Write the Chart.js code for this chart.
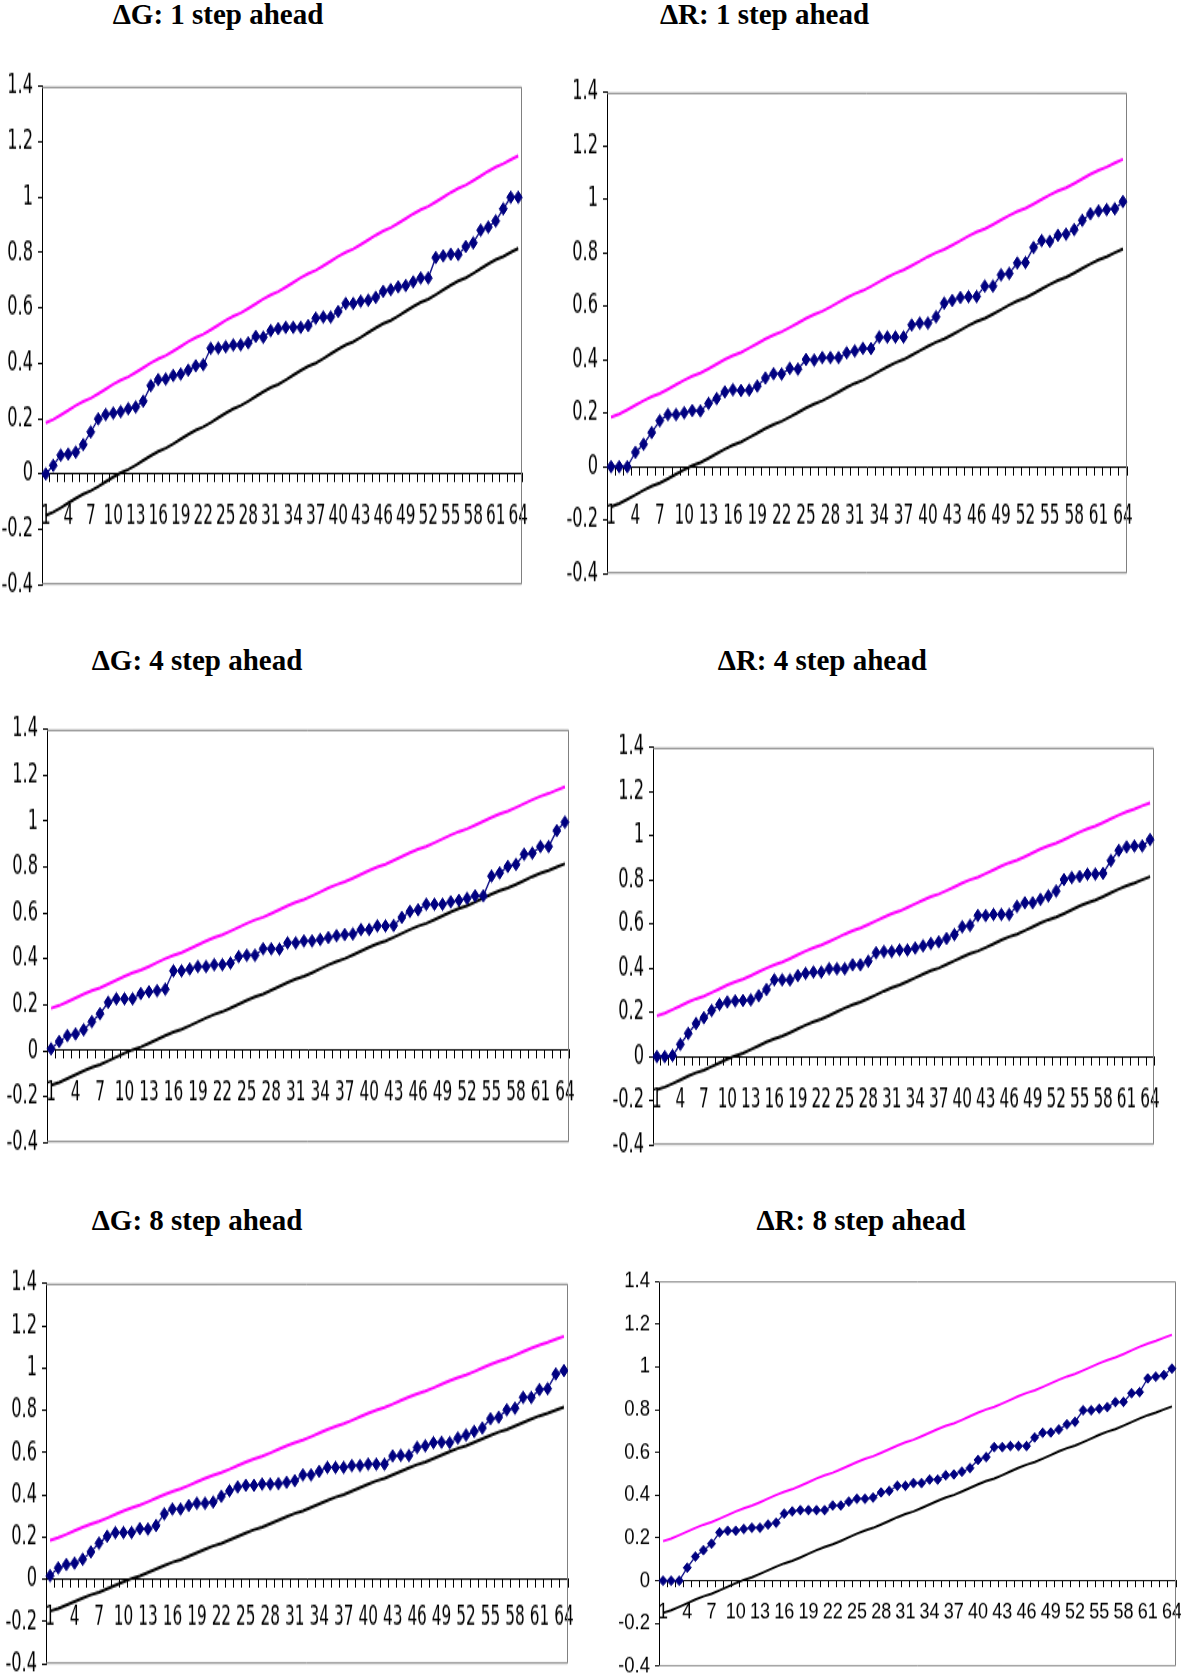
<!DOCTYPE html>
<html>
<head>
<meta charset="utf-8">
<script src="https://cdn.jsdelivr.net/npm/chart.js@4.4.0/dist/chart.umd.min.js"></script>
<style>
html, body { margin: 0; padding: 0; background: #fff; width: 1181px; height: 1679px; overflow: hidden; position: relative; }
.ttl { position: absolute; width: 320px; text-align: center; font: bold 29px 'Liberation Serif', 'Times New Roman', serif; line-height: 34px; color: #000; white-space: nowrap; }
.wrap { position: absolute; transform-origin: 0 0; }
</style>
</head>
<body>
<script>
// observation index 1..64
const steps = Array.from({length: 64}, (_, i) => String(i + 1));

// 5% significance bounds
const upperBound = [0.185, 0.197, 0.213, 0.230, 0.247, 0.262, 0.274, 0.290, 0.307, 0.324,
  0.339, 0.351, 0.367, 0.384, 0.401, 0.416, 0.428, 0.444, 0.461, 0.478,
  0.493, 0.505, 0.521, 0.538, 0.555, 0.570, 0.582, 0.598, 0.615, 0.632,
  0.647, 0.659, 0.675, 0.692, 0.709, 0.724, 0.736, 0.752, 0.769, 0.786,
  0.801, 0.813, 0.829, 0.846, 0.863, 0.878, 0.890, 0.906, 0.923, 0.940,
  0.955, 0.967, 0.983, 1.000, 1.017, 1.032, 1.044, 1.060, 1.077, 1.094,
  1.109, 1.121, 1.136, 1.150];
const lowerBound = [-0.150, -0.138, -0.122, -0.105, -0.088, -0.073, -0.061, -0.045, -0.028, -0.011,
  0.004, 0.016, 0.032, 0.049, 0.066, 0.081, 0.093, 0.109, 0.126, 0.143,
  0.158, 0.170, 0.186, 0.203, 0.220, 0.235, 0.247, 0.263, 0.280, 0.297,
  0.312, 0.324, 0.340, 0.357, 0.374, 0.389, 0.401, 0.417, 0.434, 0.451,
  0.466, 0.478, 0.494, 0.511, 0.528, 0.543, 0.555, 0.571, 0.588, 0.605,
  0.620, 0.632, 0.648, 0.665, 0.682, 0.697, 0.709, 0.725, 0.742, 0.759,
  0.774, 0.786, 0.801, 0.815];

// CUSUM of squares, one series per panel
const dG1 = [0, 0.031, 0.068, 0.072, 0.079, 0.106, 0.152, 0.199, 0.215, 0.22,
  0.225, 0.236, 0.242, 0.263, 0.319, 0.341, 0.343, 0.356, 0.361, 0.375,
  0.391, 0.395, 0.454, 0.455, 0.46, 0.466, 0.467, 0.474, 0.497, 0.494,
  0.518, 0.525, 0.53, 0.53, 0.53, 0.536, 0.563, 0.567, 0.567, 0.587,
  0.616, 0.616, 0.624, 0.628, 0.638, 0.66, 0.666, 0.676, 0.681, 0.694,
  0.708, 0.708, 0.782, 0.788, 0.794, 0.793, 0.822, 0.835, 0.881, 0.892,
  0.914, 0.958, 1.0, 1.0];
const dR1 = [0, 0, 0, 0.054, 0.084, 0.128, 0.172, 0.195, 0.195, 0.202,
  0.21, 0.209, 0.237, 0.255, 0.28, 0.288, 0.285, 0.287, 0.302, 0.332,
  0.348, 0.347, 0.368, 0.365, 0.401, 0.399, 0.408, 0.408, 0.408, 0.426,
  0.433, 0.443, 0.442, 0.485, 0.485, 0.485, 0.485, 0.53, 0.537, 0.537,
  0.561, 0.612, 0.622, 0.633, 0.636, 0.637, 0.676, 0.676, 0.718, 0.723,
  0.762, 0.764, 0.82, 0.846, 0.843, 0.866, 0.87, 0.887, 0.922, 0.946,
  0.957, 0.962, 0.965, 0.992];
const dG4 = [0.008, 0.04, 0.066, 0.073, 0.091, 0.126, 0.161, 0.211, 0.226, 0.226,
  0.226, 0.249, 0.257, 0.261, 0.268, 0.348, 0.348, 0.356, 0.367, 0.367,
  0.375, 0.375, 0.382, 0.41, 0.416, 0.416, 0.444, 0.444, 0.443, 0.47,
  0.47, 0.478, 0.478, 0.485, 0.493, 0.501, 0.506, 0.509, 0.528, 0.528,
  0.544, 0.544, 0.546, 0.581, 0.607, 0.614, 0.638, 0.638, 0.638, 0.649,
  0.655, 0.664, 0.675, 0.675, 0.761, 0.775, 0.803, 0.812, 0.856, 0.861,
  0.89, 0.89, 0.959, 0.996];
const dR4 = [0, 0, 0.005, 0.056, 0.105, 0.15, 0.176, 0.209, 0.236, 0.248,
  0.252, 0.254, 0.257, 0.276, 0.304, 0.348, 0.348, 0.348, 0.367, 0.377,
  0.383, 0.383, 0.398, 0.398, 0.398, 0.416, 0.416, 0.432, 0.47, 0.476,
  0.476, 0.483, 0.483, 0.492, 0.502, 0.512, 0.52, 0.535, 0.553, 0.588,
  0.594, 0.639, 0.639, 0.644, 0.644, 0.644, 0.68, 0.697, 0.697, 0.712,
  0.728, 0.75, 0.802, 0.811, 0.816, 0.826, 0.827, 0.83, 0.888, 0.934,
  0.95, 0.954, 0.954, 0.983];
const dG8 = [0.017, 0.054, 0.07, 0.077, 0.095, 0.13, 0.171, 0.204, 0.221, 0.222,
  0.222, 0.24, 0.238, 0.255, 0.31, 0.333, 0.333, 0.349, 0.36, 0.36,
  0.366, 0.393, 0.419, 0.437, 0.445, 0.445, 0.451, 0.451, 0.453, 0.459,
  0.467, 0.494, 0.494, 0.511, 0.53, 0.53, 0.53, 0.538, 0.538, 0.545,
  0.545, 0.545, 0.584, 0.587, 0.586, 0.624, 0.632, 0.647, 0.649, 0.647,
  0.669, 0.683, 0.7, 0.716, 0.76, 0.767, 0.802, 0.81, 0.861, 0.861,
  0.898, 0.902, 0.972, 0.988];
const dR8 = [0, 0, 0, 0.061, 0.113, 0.143, 0.173, 0.226, 0.234, 0.234,
  0.242, 0.248, 0.248, 0.263, 0.271, 0.314, 0.324, 0.33, 0.33, 0.33,
  0.33, 0.352, 0.352, 0.37, 0.383, 0.383, 0.389, 0.413, 0.42, 0.444,
  0.444, 0.457, 0.457, 0.473, 0.473, 0.493, 0.497, 0.51, 0.527, 0.565,
  0.578, 0.625, 0.625, 0.63, 0.63, 0.63, 0.67, 0.692, 0.693, 0.707,
  0.731, 0.743, 0.797, 0.797, 0.804, 0.812, 0.835, 0.836, 0.877, 0.882,
  0.946, 0.954, 0.962, 0.992];

const yMin = -0.4, yMax = 1.4, yStep = 0.2;

const NAVY = '#000080';
const NARROW = "'Liberation Sans Narrow', 'DejaVu Sans Condensed', sans-serif";
const AX = 40, PT = 14, PB = 12, PR = 6;

// plot: [left, right, top(1.4), bottom(-0.4)] in page px, head: title centre, lab: label drop below 0
const panels = [
  {title: 'ΔG: 1 step ahead', data: dG1, plot: [41.8, 521.4, 83.4, 590.2], head: [218, 14], lab: 43},
  {title: 'ΔR: 1 step ahead', data: dR1, plot: [606.5, 1126.5, 89.7, 580.2], head: [764.5, 14], lab: 50},
  {title: 'ΔG: 4 step ahead', data: dG4, plot: [47, 568.5, 727, 1149], head: [197, 659.5], lab: 43},
  {title: 'ΔR: 4 step ahead', data: dR4, plot: [652.5, 1153, 744.6, 1150.6], head: [822.3, 659.5], lab: 44},
  {title: 'ΔG: 8 step ahead', data: dG8, plot: [46.3, 568.5, 1280.9, 1669.7], head: [197, 1219.5], lab: 39},
  {title: 'ΔR: 8 step ahead', data: dR8, plot: [658.7, 1175.5, 1279, 1671.5], head: [861, 1219.5], lab: 32,
   k: 1.2, xfs: 18, yfs: 18.5, family: "'Liberation Sans', Arial, sans-serif"}
];

const frame = {
  id: 'frame',
  beforeDatasetsDraw(chart) {
    const {ctx, chartArea: a} = chart;
    ctx.save();
    ctx.strokeStyle = '#808080';
    ctx.lineWidth = 1;
    ctx.beginPath();
    ctx.moveTo(a.left, a.top + 0.5);
    ctx.lineTo(a.right - 0.5, a.top + 0.5);
    ctx.lineTo(a.right - 0.5, a.bottom - 0.5);
    ctx.lineTo(a.left, a.bottom - 0.5);
    ctx.stroke();
    ctx.restore();
  }
};

function draw(p) {
  const [L, R, T, B] = p.plot;
  const k = p.k || 1.55;
  const fam = p.family || NARROW;
  const xfs = p.xfs || 17, yfs = p.yfs || 18;
  const w = Math.round(R - L) + AX + PR;
  const h = Math.round((B - T) / k) + PT + PB;

  const t = document.createElement('div');
  t.className = 'ttl';
  t.textContent = p.title;
  t.style.left = (p.head[0] - 160) + 'px';
  t.style.top = (p.head[1] - 17) + 'px';
  document.body.appendChild(t);

  const wrap = document.createElement('div');
  wrap.className = 'wrap';
  wrap.style.left = (L - AX) + 'px';
  wrap.style.top = (T - PT * k) + 'px';
  wrap.style.transform = 'scaleY(' + k + ')';
  const cv = document.createElement('canvas');
  cv.width = w; cv.height = h;
  cv.style.width = w + 'px'; cv.style.height = h + 'px';
  wrap.appendChild(cv);
  document.body.appendChild(wrap);

  new Chart(cv, {
    type: 'line',
    data: {
      labels: steps,
      datasets: [
        {data: p.data, borderColor: NAVY, backgroundColor: NAVY, borderWidth: 1.2,
         pointStyle: 'rectRot', pointRadius: 4, pointBorderWidth: 1,
         pointBackgroundColor: NAVY, pointBorderColor: NAVY, clip: false},
        {data: upperBound, borderColor: '#ff00ff', borderWidth: 2, pointRadius: 0, clip: false},
        {data: lowerBound, borderColor: '#000000', borderWidth: 2, pointRadius: 0, clip: false}
      ]
    },
    options: {
      responsive: false,
      animation: false,
      events: [],
      layout: {padding: {left: 0, top: PT, right: PR, bottom: PB}},
      elements: {line: {tension: 0}},
      plugins: {legend: {display: false}, tooltip: {enabled: false}},
      scales: {
        x: {
          type: 'category',
          offset: true,
          position: {y: 0},
          border: {display: true, color: '#000', width: 1},
          grid: {display: true, drawOnChartArea: false, drawTicks: true, tickLength: 5, offset: true, color: '#000'},
          ticks: {
            autoSkip: false, maxRotation: 0, minRotation: 0, color: '#000',
            font: {family: fam, size: xfs},
            padding: p.lab / k - 5 - 0.6 * xfs,
            callback: (v, i) => (i % 3 === 0 ? steps[i] : '')
          },
          afterFit(s) { s.paddingLeft = 0; s.paddingRight = 0; }
        },
        y: {
          type: 'linear',
          position: 'left',
          min: yMin, max: yMax,
          border: {display: true, color: '#000', width: 1},
          grid: {display: true, drawOnChartArea: false, drawTicks: true, tickLength: 4, color: '#000'},
          ticks: {stepSize: yStep, padding: 5, color: '#000',
                  font: {family: fam, size: yfs},
                  callback: v => String(Math.round(v * 10) / 10)},
          afterFit(s) { s.width = AX; }
        }
      }
    },
    plugins: [frame]
  });
}

panels.forEach(draw);
</script>
</body>
</html>
